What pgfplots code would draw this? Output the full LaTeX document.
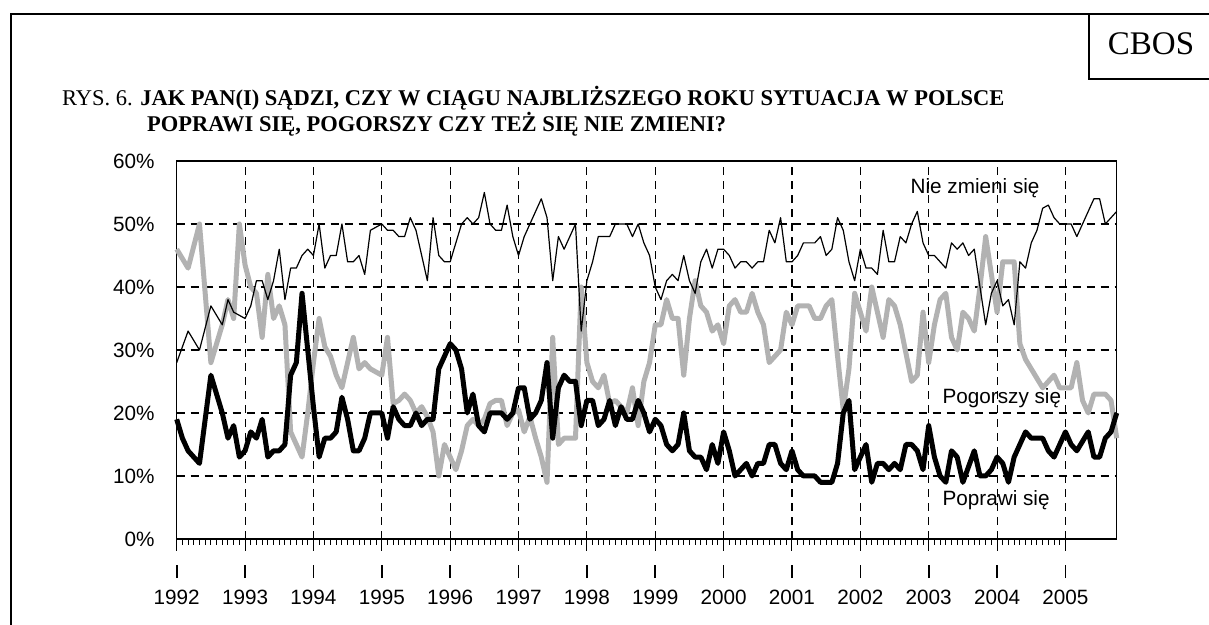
\documentclass[border=0pt]{standalone}
\usepackage{fontspec}
\setmainfont{Liberation Serif}
\newfontfamily\arial{Liberation Sans}
\usepackage{pgfplots}
\usepackage{pgfplotstable}
\pgfplotsset{compat=1.18}
\definecolor{lgray}{RGB}{178,178,178}
\pgfplotstableread{
m pop pog nie
0 19 46 28
1 16 44.5 30.5
2 14 43 33
3 13 46.5 31.5
4 12 50 30
5 19 39 33.5
6 26 28 37
7 23 31 35.5
8 20 34 34
9 16 38 38
10 18 35 36
11 13 50 35.5
12 14 43.5 35
13 17 40 37
14 16 39 41
15 19 32 41
16 13 42 38
17 14 35 41
18 14 37 46
19 15 34 38
20 26 17 43
21 28 15 43
22 39 13 45
23 30 20 46
24 21 28 45
25 13 35 50
26 16 30.5 43
27 16 29 45
28 17 26 45
29 22.5 24 50
30 19 28 44
31 14 32 44
32 14 27 45
33 16 28 42
34 20 27 49
35 20 26.5 49.5
36 20 26 50
37 16 32 49
38 21 21.5 49
39 19 22 48
40 18 23 48
41 18 22 51
42 20 20 49
43 18 21 45
44 19 19.4 41
45 19 17 51
46 27 10 45
47 29 15 44
48 31 13 44
49 30 11 47
50 27 14 50
51 20 18 51
52 23 19 50
53 18 18 51
54 17 19 55
55 20 21.5 50
56 20 22 49
57 20 22 49
58 19 18 53
59 20 20 48
60 24 20.5 45
61 24 17 48
62 19 19.4 50
63 20 16 52
64 22 13 54
65 28 9 51
66 16 32 41
67 24 15 48
68 26 16 46
69 25 16 48
70 25 16 50
71 18 40 33
72 22 28 41
73 22 25 44
74 18 24 48
75 19 26 48
76 22 21.5 48
77 18 22 50
78 21 21 50
79 19 20 50
80 19 24 48
81 22 18 50
82 20 25 47
83 17 28 45
84 19 34 40
85 18 34 38
86 15 38 41
87 14 35 42
88 15 35 41
89 20 26 45
90 14 35 41
91 13 41 39
92 13 37 44
93 11 36 46
94 15 33 43
95 12 34 46
96 17 31 46
97 14 37 45
98 10 38 43
99 11 36 44
100 12 36 44
101 10 39 43
102 12 36 44
103 12 34 44
104 15 28 49
105 15 29 47
106 12 30 51
107 11 36 44
108 14 34 44
109 11 37 45
110 10 37 47
111 10 37 47
112 10 35 47
113 9 35 48
114 9 37 45
115 9 38 46
116 12 29 51
117 20 20.5 49
118 22 27 44
119 11 39 41
120 13 36 46
121 15 33 43
122 9 40 43
123 12 36 42
124 12 32 49
125 11 38 44
126 12 37 44
127 11 34 48
128 15 29.5 47
129 15 25 50
130 14 26 52
131 11 36 47
132 18 28 45
133 13 34 45
134 10 38 44
135 9 39 43
136 14 32 47
137 13 30 46
138 9 36 47
139 11.5 35 45
140 14 33 46
141 10 40 40
142 10 48 34
143 11 42 39
144 13 36 41
145 12 44 37
146 9 44 38
147 13 44 34
148 15 31 44
149 17 28.5 43
150 16 27 47
151 16 25.5 49
152 16 24 52.5
153 14 25 53
154 13 26 51
155 15 24 50
156 17 24 50
157 15 24 50
158 14 28 48
159 15.5 22 50
160 17 20 52
161 13 23 54
162 13 23 54
163 16 23 50
164 17 22 51
165 20 16 52
}\datatable
\begin{document}
\begin{tikzpicture}[x=1bp,y=1bp]
\path[use as bounding box] (0,0) rectangle (1209,625);
\draw[line width=2bp] (11,0) -- (11,611) -- (1209,611);
\draw[line width=2bp] (1089,611) -- (1089,546) -- (1209,546);
\node[font=\fontsize{33bp}{33bp}\selectfont, inner sep=0pt] at (1151,581) {CBOS};
\node[anchor=base west, inner sep=0pt, font=\fontsize{22.5bp}{22.5bp}\selectfont] at (62,519)
  {RYS. 6. \textbf{JAK PAN(I) SĄDZI, CZY W CIĄGU NAJBLIŻSZEGO ROKU SYTUACJA W POLSCE}};
\node[anchor=base west, inner sep=0pt, font=\fontsize{22.5bp}{22.5bp}\selectfont] at (147,493)
  {\textbf{POPRAWI SIĘ, POGORSZY CZY TEŻ SIĘ NIE ZMIENI?}};
\begin{axis}[
  at={(176.7bp,86bp)}, anchor=south west, scale only axis,
  width=940bp, height=378bp,
  xmin=0, xmax=165, ymin=0, ymax=60,
  xtick={0,12,...,156},
  xticklabels={
    {\rule{1.6bp}{13bp}\\1992},{\rule{1.6bp}{13bp}\\1993},{\rule{1.6bp}{13bp}\\1994},
    {\rule{1.6bp}{13bp}\\1995},{\rule{1.6bp}{13bp}\\1996},{\rule{1.6bp}{13bp}\\1997},
    {\rule{1.6bp}{13bp}\\1998},{\rule{1.6bp}{13bp}\\1999},{\rule{1.6bp}{13bp}\\2000},
    {\rule{1.6bp}{13bp}\\2001},{\rule{1.6bp}{13bp}\\2002},{\rule{1.6bp}{13bp}\\2003},
    {\rule{1.6bp}{13bp}\\2004},{\rule{1.6bp}{13bp}\\2005}},
  minor x tick num=11,
  xtick pos=left, ytick pos=left,
  ytick={0,10,...,60},
  yticklabels={0\%,10\%,20\%,30\%,40\%,50\%,60\%},
  tick align=outside,
  major tick length=12bp, minor tick length=6bp,
  ytick style={draw=none},
  xtick style={black, line width=1bp},
  minor tick style={black, line width=0.7bp},
  xmajorgrids, ymajorgrids,
  major grid style={black, dash pattern=on 8bp off 6bp, line width=1.1bp},
  axis line style={line width=1.2bp},
  ticklabel style={font=\arial\fontsize{20.7bp}{26bp}\selectfont},
  xticklabel style={align=center, anchor=north, inner sep=0pt, yshift=-14bp},
  yticklabel style={anchor=east, inner sep=0pt, xshift=-10bp},
  clip=false,
]
\addplot[lgray, line width=5bp, line join=round] table[x=m, y=pog] {\datatable};
\addplot[black, line width=1.2bp, line join=round] table[x=m, y=nie] {\datatable};
\addplot[black, line width=5bp, line join=round] table[x=m, y=pop] {\datatable};
\node[anchor=west, inner sep=0pt, font=\arial\fontsize{20.7bp}{24bp}\selectfont] at (axis cs:128.8,55.7) {Nie zmieni się};
\node[anchor=west, inner sep=0pt, font=\arial\fontsize{20.7bp}{24bp}\selectfont] at (axis cs:134.4,22.4) {Pogorszy się};
\node[anchor=west, inner sep=0pt, font=\arial\fontsize{20.7bp}{24bp}\selectfont] at (axis cs:134.4,6.2) {Poprawi się};
\end{axis}
\end{tikzpicture}
\end{document}
